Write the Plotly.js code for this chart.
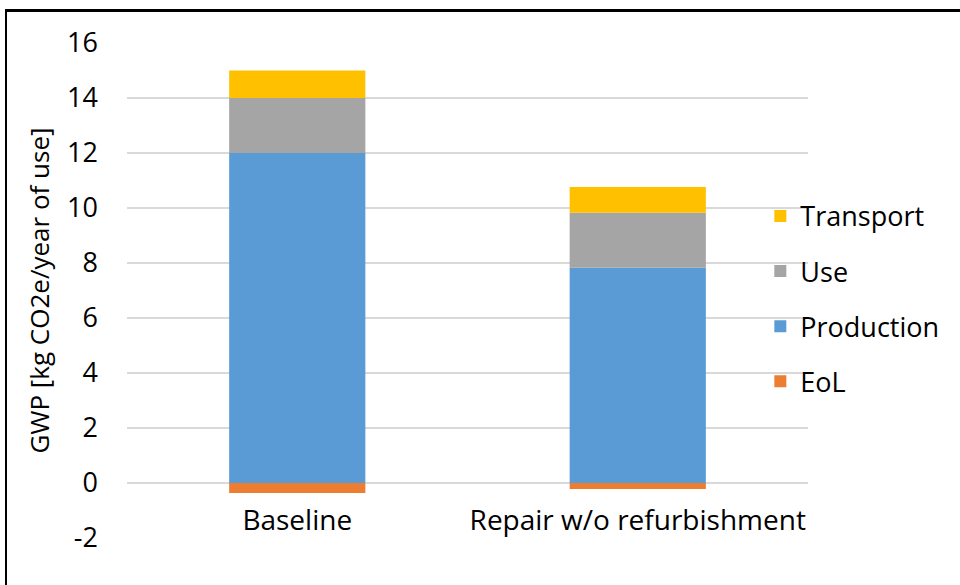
<!DOCTYPE html>
<html>
<head>
<meta charset="utf-8">
<script src="https://cdn.plot.ly/plotly-3.0.1.min.js"></script>
<style>
html,body{margin:0;padding:0;background:#fff;}
#wrap{position:relative;width:960px;height:585px;overflow:hidden;}
#chart{width:960px;height:585px;}
#frame{position:absolute;left:5px;top:9px;width:1000px;height:700px;border-left:2px solid #000;border-top:3px solid #000;pointer-events:none;}
</style>
</head>
<body>
<div id="wrap">
<div id="chart"></div>
<div id="frame"></div>
</div>
<script>
const categories = ["Baseline", "Repair w/o refurbishment"];
const eol = [-0.36, -0.22];
const production = [12.0, 7.83];
const use = [2.0, 2.0];
const transport = [1.0, 0.93];
const seriesNames = ["EoL", "Production", "Use", "Transport"];
const colors = ["#ED7D31", "#5B9BD5", "#A5A5A5", "#FFC000"];
const yTicks = [-2, 0, 2, 4, 6, 8, 10, 12, 14, 16];

const seriesData = [eol, production, use, transport];
const FONT = "Open Sans, Noto Sans, sans-serif";

const traces = seriesData.map((vals, i) => ({
  type: "bar",
  name: seriesNames[i],
  x: categories,
  y: vals,
  legendgroup: "g" + i,
  legendrank: seriesData.length - i,
  marker: {color: colors[i], line: {width: 0}},
  hoverinfo: "name+y"
}));

const layout = {
  width: 960,
  height: 585,
  barmode: "relative",
  bargap: 0.6,
  paper_bgcolor: "#fff",
  plot_bgcolor: "#fff",
  margin: {l: 126.5, r: 151.5, t: 43, b: 47, autoexpand: false},
  font: {family: FONT, color: "#000"},
  showlegend: true,
  legend: {
    x: 0.93, xanchor: "left",
    y: 0.483, yanchor: "middle",
    traceorder: "grouped",
    tracegroupgap: 17,
    font: {size: 27, family: FONT, color: "#000"},
    bgcolor: "rgba(0,0,0,0)"
  },
  xaxis: {
    type: "category",
    anchor: "free",
    position: 2 / 18,
    showline: false,
    showgrid: false,
    zeroline: false,
    ticks: "",
    ticklabelstandoff: 18,
    tickfont: {size: 28, family: FONT, color: "#000"}
  },
  yaxis: {
    range: [-2, 16],
    tickvals: yTicks,
    ticktext: yTicks.map(String),
    showgrid: true,
    gridcolor: "#D9D9D9",
    gridwidth: 1.5,
    zeroline: true,
    zerolinecolor: "#D9D9D9",
    zerolinewidth: 2,
    showline: false,
    ticks: "",
    ticklabelstandoff: 28,
    tickfont: {size: 27, family: FONT, color: "#000"},
    title: {text: "GWP [kg CO2e/year of use]", font: {size: 26, family: FONT, color: "#000"}, standoff: 10}
  }
};

Plotly.newPlot("chart", traces, layout, {displayModeBar: false, staticPlot: true});
</script>
</body>
</html>
